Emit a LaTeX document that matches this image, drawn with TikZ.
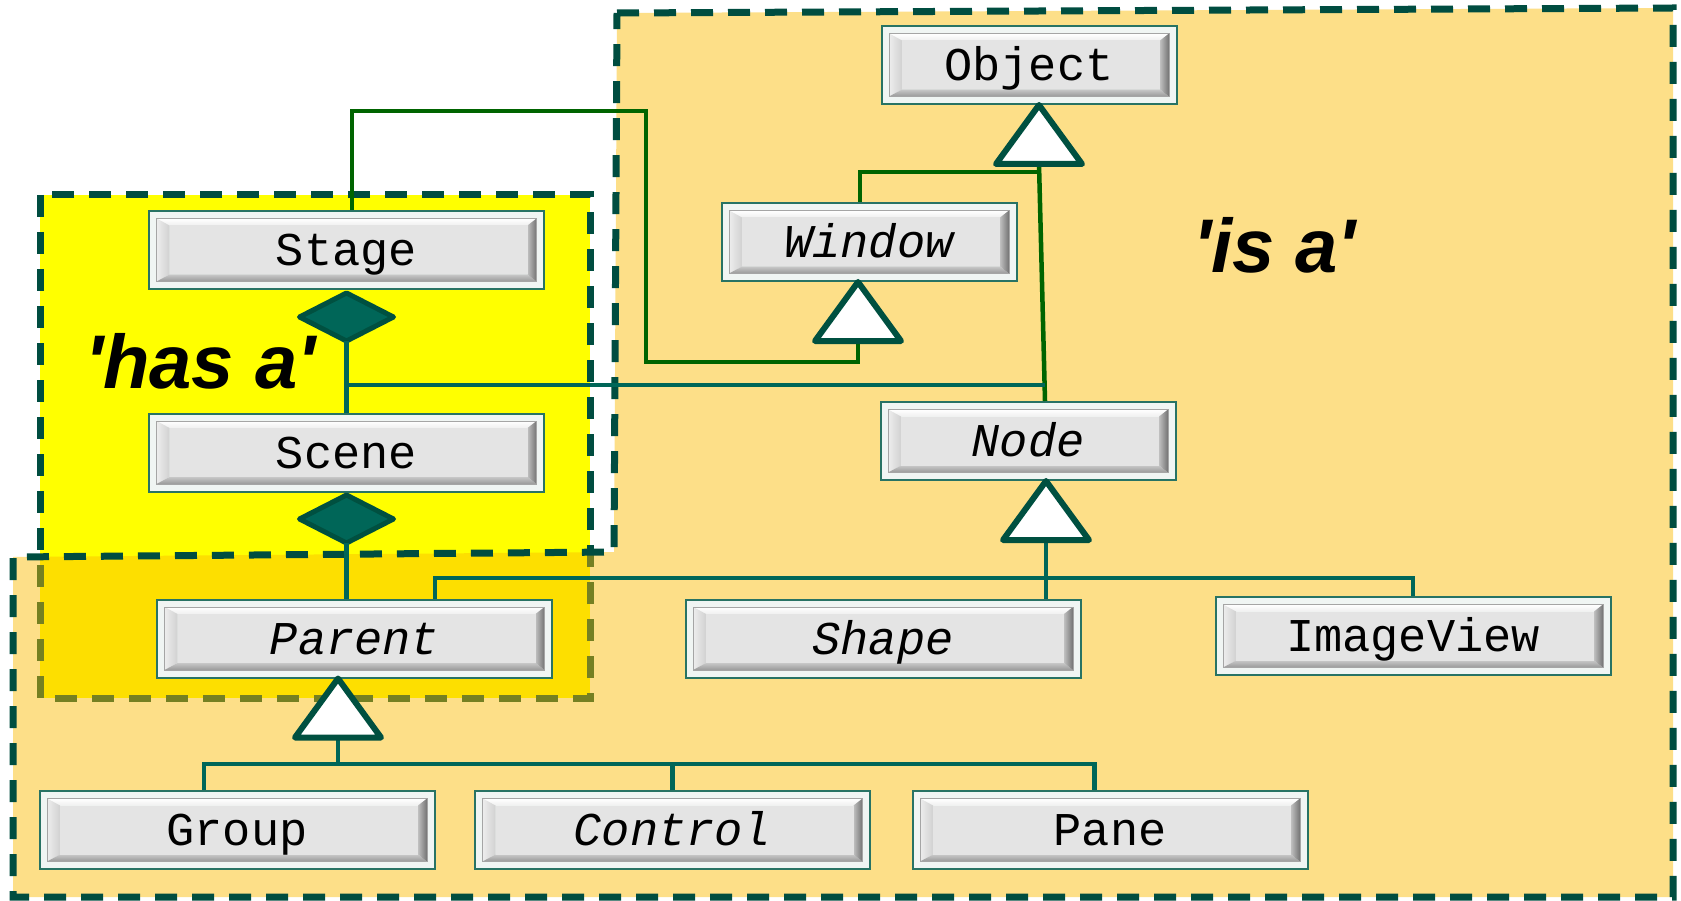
\documentclass[tikz,border=0pt]{standalone}
\usepackage{fontspec}
\newfontfamily\boxfont{Liberation Mono}
\newfontfamily\lblfont{Liberation Sans}
\usetikzlibrary{backgrounds}

\definecolor{dashc}{RGB}{0,77,64}
\definecolor{hasfill}{RGB}{255,255,0}
\definecolor{isfill}{RGB}{251,187,0}
\definecolor{linkteal}{RGB}{0,102,88}
\definecolor{linkgreen}{RGB}{0,100,0}
\definecolor{triedge}{RGB}{0,80,64}
\definecolor{boxedge}{RGB}{40,115,100}
\definecolor{boxmargin}{RGB}{240,245,243}
\definecolor{bvface}{RGB}{228,228,228}
\definecolor{bvrim}{RGB}{165,165,165}

\tikzset{
  region/.style={draw=dashc, line width=7pt, dash pattern=on 22pt off 15pt},
  tealink/.style={draw=linkteal, line width=4.5pt},
  greenlink/.style={draw=linkgreen, line width=4.5pt, line join=miter},
  inh/.style={draw=triedge, fill=white, line width=6pt, line join=round},
  agg/.style={draw=triedge, fill=linkteal, line width=5pt, line join=round},
  bevel/.style={path picture={
    \coordinate (bvA) at ([shift={(7.5pt,7.5pt)}]path picture bounding box.south west);
    \coordinate (bvC) at ([shift={(-7.5pt,-7.5pt)}]path picture bounding box.north east);
    \coordinate (fcA) at ([shift={(20.5pt,14.5pt)}]path picture bounding box.south west);
    \coordinate (fcC) at ([shift={(-16.5pt,-14.5pt)}]path picture bounding box.north east);
    % top face of the bevel
    \shade[top color=white, bottom color=white!94!black]
      (bvA|-bvC) -- (bvC) -- (fcC) -- (fcA|-fcC) -- cycle;
    % left face
    \shade[left color=white!93!black, right color=white!82!black]
      (bvA) -- (fcA) -- (fcA|-fcC) -- (bvA|-bvC) -- cycle;
    % bottom face
    \shade[top color=white!78!black, bottom color=white!60!black]
      (bvA) -- (bvC|-bvA) -- (fcC|-fcA) -- (fcA) -- cycle;
    % right face
    \shade[left color=white!75!black, right color=white!45!black]
      (bvC|-bvA) -- (fcC|-fcA) -- (fcC) -- (bvC) -- cycle;
    \fill[bvface] (fcA) rectangle (fcC);
    \draw[bvrim, line width=0.8pt] (bvA) rectangle (bvC);
  }},
  clsbase/.style={draw=boxedge, line width=2pt, fill=boxmargin, bevel,
    minimum height=78pt, inner sep=0pt, text height=31pt, text depth=0pt,
    font=\boxfont\fontsize{47}{50}\selectfont},
  cls/.style={clsbase, minimum width=295pt},
  clsw/.style={clsbase, minimum width=395pt},
  abstract/.style={font=\boxfont\itshape\fontsize{47}{50}\selectfont},
  lbl/.style={font=\lblfont\bfseries\itshape\fontsize{76}{80}\selectfont,
    inner sep=0pt, anchor=base west},
  inhtri/.pic={
    \draw[inh] (0,0) -- (-43,59) -- (43,59) -- cycle;
    \coordinate (-base) at (0,59);
  },
  aggdia/.pic={
    \draw[agg] (0,0) -- (47,24) -- (0,48) -- (-47,24) -- cycle;
    \coordinate (-bot) at (0,48);
  }
}

\begin{document}
\begin{tikzpicture}[x=1pt,y=-1pt]
\useasboundingbox (0,0) rectangle (1681,901);

% class boxes
\node[cls] (object) at (1029,65) {Object};
\node[cls, abstract] (window) at (869,242) {Window};
\node[clsw] (stage) at (346.5,250) {Stage};
\node[clsw] (scene) at (346.5,452.5) {Scene};
\node[cls, abstract] (node) at (1028,441) {Node};
\node[clsw, abstract] (parent) at (354.5,638.5) {Parent};
\node[clsw, abstract] (shape) at (883,638.5) {Shape};
\node[clsw] (imageview) at (1413,636) {ImageView};
\node[clsw] (group) at (237,830) {Group};
\node[clsw, abstract] (control) at (672.5,830) {Control};
\node[clsw] (pane) at (1110,830) {Pane};

% regions behind everything
\begin{pgfonlayer}{background}
  \fill[white] (0,0) rectangle (1681,901);
  \fill[hasfill] (40,195) rectangle (590,698);
  \draw[region] (40,195) rectangle (590,698);
  \fill[isfill, fill opacity=0.467]
    (617,13) -- (1673,8) -- (1673,897) -- (13,897) -- (13,557) -- (614,552) -- cycle;
  \draw[region]
    (617,13) -- (1673,8) -- (1673,897) -- (13,897) -- (13,557) -- (614,552) -- cycle;
\end{pgfonlayer}

% region labels
\node[lbl] (hasa) at (85,388) {'has a'};
\node[lbl] (isa) at (1193,273) {'is a'};

% junction points
\coordinate (winjoin) at (1040,172);
\coordinate (stagebend) at (646,111);
\coordinate (stagedrop) at (646,362);
\coordinate (scenejoin) at (346.5,385);
\coordinate (nodejoin) at (1044.6,385);
\coordinate (nodebus) at (1046,578);
\coordinate (parentbus) at (338,764);
\coordinate (nodetop) at ([xshift=17pt]node.north);

% aggregation diamonds
\pic (stagedia) at ([yshift=-3pt]stage.south) {aggdia};
\pic (scenedia) at ([yshift=-2.5pt]scene.south) {aggdia};

% generalisation triangle positions
\coordinate (objtip) at ([xshift=10pt]object.south);
\coordinate (wintip) at ([xshift=-11pt]window.south);
\coordinate (nodetip) at ([xshift=18pt]node.south);
\coordinate (partip) at ([xshift=-16.5pt]parent.south);
\coordinate (objbase) at ([yshift=-59pt]objtip);
\coordinate (winbase) at ([yshift=-59pt]wintip);
\coordinate (nodebase) at ([yshift=-59pt]nodetip);
\coordinate (parbase) at ([yshift=-59pt]partip);

% green links
\draw[greenlink] ([xshift=5.5pt]stage.north) |- (stagebend) -- (stagedrop) -| (winbase);
\draw[greenlink] ([xshift=-9pt]window.north) |- (winjoin);
\draw[greenlink] (nodetop) -- (objbase);

% teal links
\draw[tealink] (stagedia-bot) -- (scene.north);
\draw[tealink] (scenedia-bot) -- (scenedia-bot |- parent.north);
\draw[tealink] (scenejoin) -- (nodejoin);
\draw[tealink] (nodebase) -- (nodebase |- shape.north);
\draw[tealink] ([xshift=80.5pt]parent.north) |- (nodebus) -| (imageview.north);
\draw[tealink] (parbase) -- (parentbus);
\draw[tealink] ([xshift=-33pt]group.north) |- (parentbus) -| ([xshift=-15.5pt]pane.north);
\draw[tealink] (control.north) -- (control.north |- parentbus);

% generalisation triangles
\pic at (objtip) {inhtri};
\pic at (wintip) {inhtri};
\pic at (nodetip) {inhtri};
\pic at (partip) {inhtri};
\end{tikzpicture}
\end{document}
